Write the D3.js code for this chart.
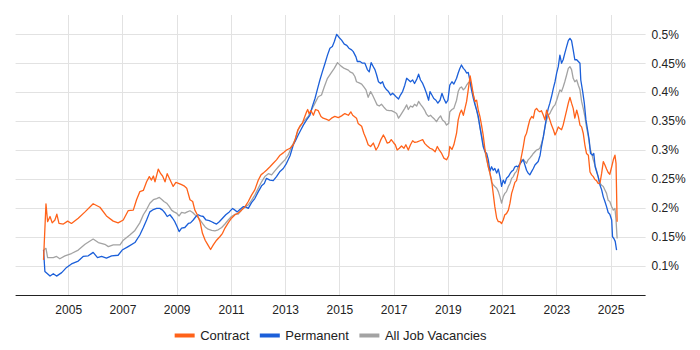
<!DOCTYPE html>
<html>
<head>
<meta charset="utf-8">
<script src="https://cdn.jsdelivr.net/npm/d3@7"></script>
<style>
  html, body { margin: 0; padding: 0; background: #fff; }
  svg { display: block; font-family: Arial, "Liberation Sans", sans-serif; }
</style>
</head>
<body>
<svg id="chart" width="700" height="350"></svg>
<script>
// ---- Data (decimal year, percent of job ads) ----
const seriesNames = ["Contract", "Permanent", "All Job Vacancies"];
const seriesColors = ["#ff6219", "#1b5fd9", "#a3a3a3"];
const xTicks = [2005, 2007, 2009, 2011, 2013, 2015, 2017, 2019, 2021, 2023, 2025];
const yTicks = [0.1, 0.15, 0.2, 0.25, 0.3, 0.35, 0.4, 0.45, 0.5];
const yTickLabels = ["0.1%", "0.15%", "0.2%", "0.25%", "0.3%", "0.35%", "0.4%", "0.45%", "0.5%"];

const contract = [
[2004.09,0.110],[2004.18,0.207],[2004.24,0.176],[2004.33,0.185],[2004.41,0.174],[2004.51,0.179],[2004.58,0.189],[2004.66,0.173],[2004.82,0.172],[2004.98,0.177],[2005.12,0.173],[2005.37,0.182],[2005.62,0.193],[2005.92,0.207],[2006.17,0.201],[2006.41,0.186],[2006.66,0.177],[2006.84,0.174],[2007.03,0.179],[2007.21,0.195],[2007.40,0.196],[2007.52,0.214],
[2007.64,0.228],[2007.77,0.230],[2007.89,0.245],[2007.99,0.254],[2008.07,0.248],[2008.14,0.255],[2008.20,0.245],[2008.32,0.267],[2008.41,0.259],[2008.48,0.255],[2008.57,0.245],[2008.65,0.259],[2008.75,0.249],[2008.87,0.237],[2008.97,0.244],[2009.09,0.242],[2009.18,0.240],[2009.27,0.238],[2009.37,0.234],[2009.49,0.214],[2009.59,0.211],[2009.67,0.196],[2009.76,0.188],[2009.86,0.176],[2009.95,0.156],[2010.05,0.144],[2010.15,0.136],[2010.25,0.128],[2010.35,0.136],[2010.47,0.144],[2010.59,0.150],[2010.69,0.156],[2010.78,0.165],[2010.90,0.174],[2011.02,0.182],[2011.15,0.188],[2011.27,0.191],[2011.39,0.196],
[2011.52,0.202],[2011.64,0.211],[2011.76,0.222],[2011.88,0.231],[2012.01,0.248],[2012.11,0.257],[2012.19,0.260],[2012.31,0.265],[2012.44,0.271],[2012.56,0.277],[2012.68,0.283],[2012.81,0.291],[2012.93,0.295],[2013.05,0.300],[2013.18,0.303],[2013.30,0.309],[2013.38,0.320],[2013.46,0.334],[2013.54,0.341],[2013.63,0.346],[2013.70,0.355],[2013.79,0.366],[2013.83,0.370],[2013.88,0.363],[2013.95,0.368],[2014.04,0.360],[2014.12,0.370],[2014.22,0.368],[2014.32,0.358],[2014.40,0.355],[2014.53,0.353],[2014.61,0.351],[2014.71,0.355],[2014.83,0.358],[2014.96,0.356],[2015.08,0.359],[2015.20,0.363],[2015.33,0.360],
[2015.42,0.366],[2015.49,0.360],[2015.63,0.355],[2015.69,0.346],[2015.82,0.341],[2015.90,0.329],[2015.98,0.320],[2016.06,0.309],[2016.15,0.306],[2016.25,0.312],[2016.35,0.300],[2016.43,0.306],[2016.52,0.317],[2016.62,0.326],[2016.69,0.320],[2016.76,0.312],[2016.84,0.313],[2016.91,0.318],[2016.99,0.313],[2017.06,0.309],[2017.13,0.300],[2017.21,0.303],[2017.29,0.307],[2017.38,0.303],[2017.45,0.309],[2017.54,0.300],[2017.62,0.309],[2017.70,0.316],[2017.78,0.313],[2017.87,0.314],[2017.97,0.316],[2018.07,0.318],[2018.15,0.311],[2018.24,0.307],[2018.34,0.303],[2018.44,0.301],[2018.53,0.297],[2018.61,0.306],[2018.68,0.300],[2018.77,0.294],[2018.85,0.286],[2018.95,0.283],[2019.03,0.290],[2019.07,0.306],[2019.15,0.301],[2019.22,0.309],
[2019.32,0.329],[2019.38,0.352],[2019.44,0.363],[2019.50,0.369],[2019.57,0.360],[2019.63,0.372],[2019.69,0.384],[2019.75,0.404],[2019.82,0.428],[2019.87,0.415],[2019.94,0.395],[2020.00,0.384],[2020.06,0.386],[2020.12,0.369],[2020.18,0.358],[2020.24,0.343],[2020.30,0.326],[2020.37,0.300],[2020.43,0.286],[2020.49,0.271],[2020.55,0.260],[2020.61,0.248],[2020.67,0.225],[2020.73,0.202],[2020.80,0.182],[2020.86,0.176],[2020.92,0.176],[2020.98,0.173],[2021.04,0.179],[2021.10,0.188],[2021.16,0.190],[2021.23,0.196],[2021.29,0.208],[2021.35,0.225],[2021.41,0.234],[2021.47,0.244],[2021.53,0.247],[2021.59,0.260],[2021.66,0.277],[2021.72,0.291],[2021.78,0.306],[2021.84,0.323],[2021.90,0.329],[2021.96,0.341],[2022.02,0.352],[2022.09,0.358],[2022.15,0.355],[2022.21,0.369],[2022.27,0.372],[2022.33,0.368],
[2022.39,0.366],[2022.45,0.368],[2022.52,0.360],[2022.58,0.352],[2022.64,0.369],[2022.70,0.360],[2022.76,0.352],[2022.82,0.343],[2022.89,0.335],[2022.95,0.326],[2023.01,0.332],[2023.07,0.340],[2023.13,0.337],[2023.19,0.335],[2023.25,0.343],[2023.31,0.355],[2023.38,0.369],[2023.44,0.381],[2023.50,0.391],[2023.56,0.381],[2023.62,0.372],[2023.68,0.355],[2023.75,0.369],[2023.81,0.358],[2023.87,0.343],[2023.93,0.340],[2023.99,0.329],[2024.05,0.309],[2024.11,0.294],[2024.18,0.291],[2024.24,0.262],[2024.30,0.257],[2024.36,0.254],[2024.42,0.249],[2024.48,0.247],[2024.54,0.242],[2024.61,0.243],[2024.67,0.260],[2024.73,0.280],[2024.79,0.274],[2024.85,0.267],[2024.91,0.261],[2024.97,0.258],[2025.04,0.271],[2025.10,0.283],[2025.16,0.291],[2025.20,0.277],[2025.24,0.176]
];

const permanent = [
[2004.09,0.127],[2004.14,0.090],[2004.33,0.082],[2004.45,0.086],[2004.57,0.082],[2004.76,0.088],[2004.94,0.097],[2005.12,0.103],[2005.37,0.108],[2005.55,0.116],[2005.74,0.117],[2005.92,0.123],[2006.08,0.114],[2006.23,0.116],[2006.41,0.113],[2006.60,0.117],[2006.84,0.118],[2006.99,0.127],[2007.21,0.133],[2007.46,0.140],
[2007.64,0.153],[2007.77,0.166],[2007.89,0.179],[2008.01,0.193],[2008.14,0.197],[2008.26,0.199],[2008.38,0.199],[2008.48,0.196],[2008.57,0.191],[2008.65,0.185],[2008.75,0.188],[2008.85,0.182],[2008.93,0.176],[2009.02,0.167],[2009.09,0.159],[2009.18,0.165],[2009.30,0.166],[2009.43,0.173],[2009.51,0.174],[2009.61,0.179],[2009.71,0.185],[2009.79,0.188],[2009.88,0.186],[2009.98,0.185],[2010.08,0.179],[2010.20,0.178],[2010.29,0.176],[2010.37,0.174],[2010.47,0.172],[2010.57,0.176],[2010.69,0.182],[2010.81,0.188],[2010.94,0.193],[2011.06,0.199],[2011.15,0.196],[2011.23,0.193],[2011.33,0.197],[2011.45,0.202],
[2011.52,0.202],[2011.64,0.199],[2011.76,0.209],[2011.88,0.216],[2012.01,0.228],[2012.13,0.238],[2012.23,0.242],[2012.31,0.251],[2012.44,0.248],[2012.56,0.247],[2012.68,0.254],[2012.81,0.263],[2012.93,0.268],[2013.05,0.277],[2013.18,0.290],[2013.30,0.309],[2013.38,0.316],[2013.48,0.326],[2013.58,0.335],[2013.67,0.343],[2013.79,0.352],[2013.91,0.360],[2014.00,0.375],[2014.10,0.389],[2014.20,0.407],[2014.28,0.421],[2014.37,0.435],[2014.47,0.450],[2014.56,0.464],[2014.65,0.476],[2014.74,0.479],[2014.81,0.487],[2014.90,0.500],[2014.98,0.495],[2015.08,0.490],[2015.18,0.483],[2015.27,0.481],[2015.35,0.476],
[2015.45,0.473],[2015.51,0.470],[2015.61,0.461],[2015.66,0.453],[2015.76,0.453],[2015.85,0.450],[2015.94,0.450],[2016.03,0.439],[2016.10,0.435],[2016.17,0.451],[2016.25,0.444],[2016.31,0.439],[2016.37,0.430],[2016.44,0.418],[2016.52,0.415],[2016.59,0.418],[2016.66,0.409],[2016.74,0.404],[2016.81,0.401],[2016.89,0.395],[2016.96,0.398],[2017.03,0.395],[2017.11,0.391],[2017.18,0.388],[2017.25,0.395],[2017.33,0.401],[2017.41,0.412],[2017.48,0.424],[2017.55,0.421],[2017.62,0.418],[2017.70,0.421],[2017.77,0.415],[2017.85,0.422],[2017.92,0.431],[2017.99,0.421],[2018.07,0.415],[2018.14,0.407],[2018.21,0.398],[2018.29,0.386],[2018.34,0.401],[2018.41,0.395],[2018.48,0.389],[2018.56,0.386],[2018.63,0.381],[2018.71,0.386],[2018.78,0.398],[2018.85,0.389],[2018.93,0.381],[2019.00,0.386],[2019.07,0.412],[2019.15,0.418],[2019.22,0.414],
[2019.26,0.418],[2019.32,0.424],[2019.38,0.433],[2019.44,0.441],[2019.50,0.447],[2019.57,0.441],[2019.63,0.438],[2019.69,0.433],[2019.75,0.434],[2019.81,0.421],[2019.87,0.404],[2019.94,0.389],[2020.00,0.378],[2020.06,0.369],[2020.12,0.358],[2020.18,0.340],[2020.24,0.323],[2020.30,0.306],[2020.37,0.297],[2020.43,0.294],[2020.49,0.283],[2020.55,0.263],[2020.61,0.271],[2020.67,0.265],[2020.73,0.268],[2020.80,0.260],[2020.86,0.267],[2020.92,0.254],[2020.98,0.237],[2021.04,0.248],[2021.10,0.242],[2021.16,0.251],[2021.23,0.254],[2021.29,0.259],[2021.35,0.263],[2021.41,0.265],[2021.47,0.271],[2021.53,0.272],[2021.59,0.271],[2021.66,0.276],[2021.72,0.280],[2021.78,0.283],[2021.84,0.274],[2021.90,0.265],[2021.96,0.260],[2022.02,0.257],[2022.09,0.263],[2022.15,0.268],[2022.21,0.274],[2022.27,0.277],[2022.33,0.280],
[2022.40,0.291],[2022.45,0.306],[2022.52,0.323],[2022.58,0.340],[2022.64,0.358],[2022.70,0.372],[2022.76,0.381],[2022.82,0.392],[2022.89,0.407],[2022.95,0.418],[2023.01,0.433],[2023.07,0.444],[2023.13,0.464],[2023.19,0.450],[2023.25,0.456],[2023.31,0.467],[2023.38,0.479],[2023.44,0.489],[2023.50,0.493],[2023.56,0.489],[2023.62,0.473],[2023.68,0.456],[2023.75,0.456],[2023.81,0.453],[2023.87,0.450],[2023.90,0.421],[2023.97,0.401],[2024.03,0.381],[2024.09,0.352],[2024.15,0.335],[2024.21,0.317],[2024.26,0.294],[2024.34,0.291],[2024.38,0.294],[2024.43,0.271],[2024.48,0.263],[2024.54,0.254],[2024.61,0.239],[2024.67,0.231],[2024.73,0.219],[2024.79,0.211],[2024.85,0.202],[2024.91,0.192],[2024.97,0.189],[2025.04,0.179],[2025.07,0.150],[2025.12,0.147],[2025.17,0.142],[2025.22,0.127]
];

const allJobs = [
[2004.09,0.127],[2004.18,0.130],[2004.24,0.114],[2004.45,0.114],[2004.57,0.116],[2004.69,0.112],[2004.88,0.117],[2005.12,0.121],[2005.37,0.127],[2005.62,0.137],[2005.92,0.146],[2006.11,0.140],[2006.35,0.137],[2006.48,0.133],[2006.66,0.136],[2006.91,0.136],[2007.03,0.144],[2007.27,0.153],[2007.46,0.161],
[2007.64,0.174],[2007.77,0.188],[2007.89,0.197],[2008.01,0.208],[2008.14,0.214],[2008.26,0.216],[2008.36,0.218],[2008.44,0.215],[2008.53,0.211],[2008.63,0.208],[2008.73,0.202],[2008.81,0.196],[2008.90,0.193],[2008.99,0.191],[2009.09,0.186],[2009.18,0.192],[2009.30,0.191],[2009.39,0.193],[2009.49,0.195],[2009.59,0.192],[2009.67,0.188],[2009.76,0.185],[2009.86,0.179],[2009.95,0.173],[2010.05,0.167],[2010.16,0.163],[2010.29,0.161],[2010.41,0.160],[2010.53,0.162],[2010.66,0.166],[2010.78,0.172],[2010.90,0.179],[2011.02,0.185],[2011.15,0.189],[2011.27,0.189],[2011.39,0.196],
[2011.52,0.202],[2011.64,0.205],[2011.76,0.213],[2011.88,0.222],[2012.01,0.234],[2012.13,0.245],[2012.25,0.254],[2012.38,0.259],[2012.50,0.257],[2012.62,0.264],[2012.75,0.271],[2012.87,0.277],[2012.99,0.283],[2013.11,0.291],[2013.24,0.306],[2013.36,0.317],[2013.48,0.335],[2013.61,0.345],[2013.73,0.352],[2013.85,0.358],[2013.97,0.369],[2014.10,0.381],[2014.22,0.392],[2014.34,0.395],[2014.44,0.409],[2014.56,0.424],[2014.69,0.433],[2014.81,0.441],[2014.93,0.451],[2015.06,0.445],[2015.18,0.441],[2015.33,0.438],
[2015.39,0.435],[2015.49,0.433],[2015.57,0.427],[2015.63,0.418],[2015.73,0.416],[2015.82,0.414],[2015.90,0.409],[2015.98,0.404],[2016.06,0.391],[2016.15,0.401],[2016.22,0.395],[2016.31,0.386],[2016.39,0.378],[2016.47,0.376],[2016.55,0.379],[2016.64,0.374],[2016.74,0.369],[2016.84,0.368],[2016.92,0.368],[2017.01,0.366],[2017.11,0.363],[2017.18,0.355],[2017.25,0.360],[2017.33,0.366],[2017.41,0.372],[2017.48,0.378],[2017.54,0.370],[2017.62,0.376],[2017.70,0.374],[2017.77,0.379],[2017.85,0.376],[2017.92,0.384],[2017.99,0.379],[2018.07,0.374],[2018.14,0.369],[2018.21,0.362],[2018.29,0.358],[2018.36,0.360],[2018.44,0.356],[2018.51,0.353],[2018.58,0.349],[2018.66,0.355],[2018.73,0.359],[2018.80,0.352],[2018.88,0.349],[2018.95,0.343],[2019.03,0.346],[2019.07,0.366],[2019.15,0.370],[2019.22,0.372],
[2019.32,0.386],[2019.38,0.401],[2019.44,0.407],[2019.50,0.409],[2019.57,0.404],[2019.63,0.407],[2019.69,0.412],[2019.75,0.416],[2019.81,0.418],[2019.87,0.409],[2019.94,0.395],[2020.00,0.381],[2020.06,0.369],[2020.12,0.355],[2020.18,0.340],[2020.24,0.326],[2020.30,0.311],[2020.37,0.297],[2020.43,0.283],[2020.49,0.271],[2020.55,0.260],[2020.61,0.244],[2020.67,0.240],[2020.73,0.237],[2020.80,0.234],[2020.86,0.228],[2020.92,0.219],[2020.98,0.208],[2021.04,0.219],[2021.10,0.225],[2021.16,0.228],[2021.23,0.237],[2021.29,0.242],[2021.35,0.251],[2021.41,0.254],[2021.47,0.260],[2021.53,0.263],[2021.59,0.271],[2021.66,0.277],[2021.72,0.283],[2021.78,0.284],[2021.84,0.280],[2021.90,0.277],[2021.96,0.283],[2022.02,0.286],[2022.09,0.290],[2022.15,0.294],[2022.21,0.297],[2022.27,0.300],[2022.33,0.301],
[2022.39,0.303],[2022.45,0.311],[2022.52,0.323],[2022.58,0.340],[2022.64,0.352],[2022.70,0.360],[2022.76,0.363],[2022.82,0.369],[2022.89,0.375],[2022.95,0.378],[2023.01,0.386],[2023.07,0.395],[2023.13,0.404],[2023.19,0.401],[2023.25,0.409],[2023.31,0.418],[2023.38,0.430],[2023.44,0.441],[2023.50,0.444],[2023.56,0.439],[2023.62,0.424],[2023.68,0.418],[2023.75,0.421],[2023.81,0.412],[2023.87,0.404],[2023.93,0.384],[2023.99,0.372],[2024.05,0.358],[2024.11,0.340],[2024.18,0.323],[2024.24,0.303],[2024.30,0.294],[2024.36,0.283],[2024.42,0.274],[2024.48,0.265],[2024.54,0.254],[2024.61,0.242],[2024.67,0.239],[2024.73,0.237],[2024.79,0.231],[2024.85,0.225],[2024.91,0.213],[2024.97,0.211],[2025.04,0.202],[2025.10,0.196],[2025.16,0.199],[2025.20,0.179],[2025.24,0.147]
];

// ---- Layout ----
const svg = d3.select("#chart");
const plotLeft = 15.6, plotRight = 645.6, plotTop = 15, plotBottom = 295;

const x = d3.scaleLinear().domain([2003.06, 2026.29]).range([plotLeft, plotRight]);
const y = d3.scaleLinear().domain([0.05, 0.5]).range([294.6, 34.3]);

svg.append("rect").attr("width", 700).attr("height", 350).attr("fill", "#fff");

// horizontal gridlines
svg.append("g").selectAll("line").data(yTicks).join("line")
  .attr("x1", plotLeft).attr("x2", plotRight)
  .attr("y1", d => Math.round(y(d)) + 0.5).attr("y2", d => Math.round(y(d)) + 0.5)
  .attr("stroke", "#e2e2e2").attr("stroke-width", 1);

// vertical gridlines
svg.append("g").selectAll("line").data(xTicks).join("line")
  .attr("x1", d => Math.round(x(d)) + 0.5).attr("x2", d => Math.round(x(d)) + 0.5)
  .attr("y1", plotTop).attr("y2", plotBottom)
  .attr("stroke", "#e2e2e2").attr("stroke-width", 1);

// x axis (bottom)
const xAxis = d3.axisBottom(x).tickValues(xTicks).tickFormat(d3.format("d")).tickSize(0).tickPadding(10);
const gx = svg.append("g").attr("transform", `translate(0,${plotBottom})`).call(xAxis);
gx.select(".domain").remove();
gx.selectAll("text").attr("font-size", 12).attr("fill", "#222").attr("font-family", "Arial, 'Liberation Sans', sans-serif");
svg.append("line").attr("x1", plotLeft).attr("x2", plotRight).attr("y1", plotBottom + 0.5).attr("y2", plotBottom + 0.5)
  .attr("stroke", "#222").attr("stroke-width", 1);

// y axis (right)
const yAxis = d3.axisRight(y).tickValues(yTicks).tickFormat((d, i) => yTickLabels[i]).tickSize(0).tickPadding(6);
const gy = svg.append("g").attr("transform", `translate(${plotRight},0)`).call(yAxis);
gy.select(".domain").remove();
gy.selectAll("text").attr("font-size", 12).attr("fill", "#222").attr("font-family", "Arial, 'Liberation Sans', sans-serif");

// lines
const lineGen = d3.line().x(d => x(d[0])).y(d => y(d[1]));
const allSeries = [contract, permanent, allJobs];
[2, 1, 0].forEach(i => {
  svg.append("path").datum(allSeries[i])
    .attr("fill", "none")
    .attr("stroke", seriesColors[i])
    .attr("stroke-width", 1.3)
    .attr("stroke-linejoin", "round")
    .attr("d", lineGen);
});

// legend
const lg = svg.append("g");
let legendX = 0;
seriesNames.forEach((name, i) => {
  const g = lg.append("g");
  g.append("line").attr("x1", 0).attr("x2", 20).attr("y1", 0).attr("y2", 0)
    .attr("stroke", seriesColors[i]).attr("stroke-width", 4);
  const t = g.append("text").attr("x", 25.5).attr("y", 0).attr("dy", "0.35em")
    .attr("font-size", 13).attr("fill", "#222").text(name);
  const w = 25.5 + t.node().getComputedTextLength();
  g.attr("transform", `translate(${legendX},0)`);
  legendX += w + 10.5;
});
const totalW = legendX - 10.5;
lg.attr("transform", `translate(${(plotLeft + plotRight) / 2 - totalW / 2},335.5)`);
</script>
</body>
</html>
